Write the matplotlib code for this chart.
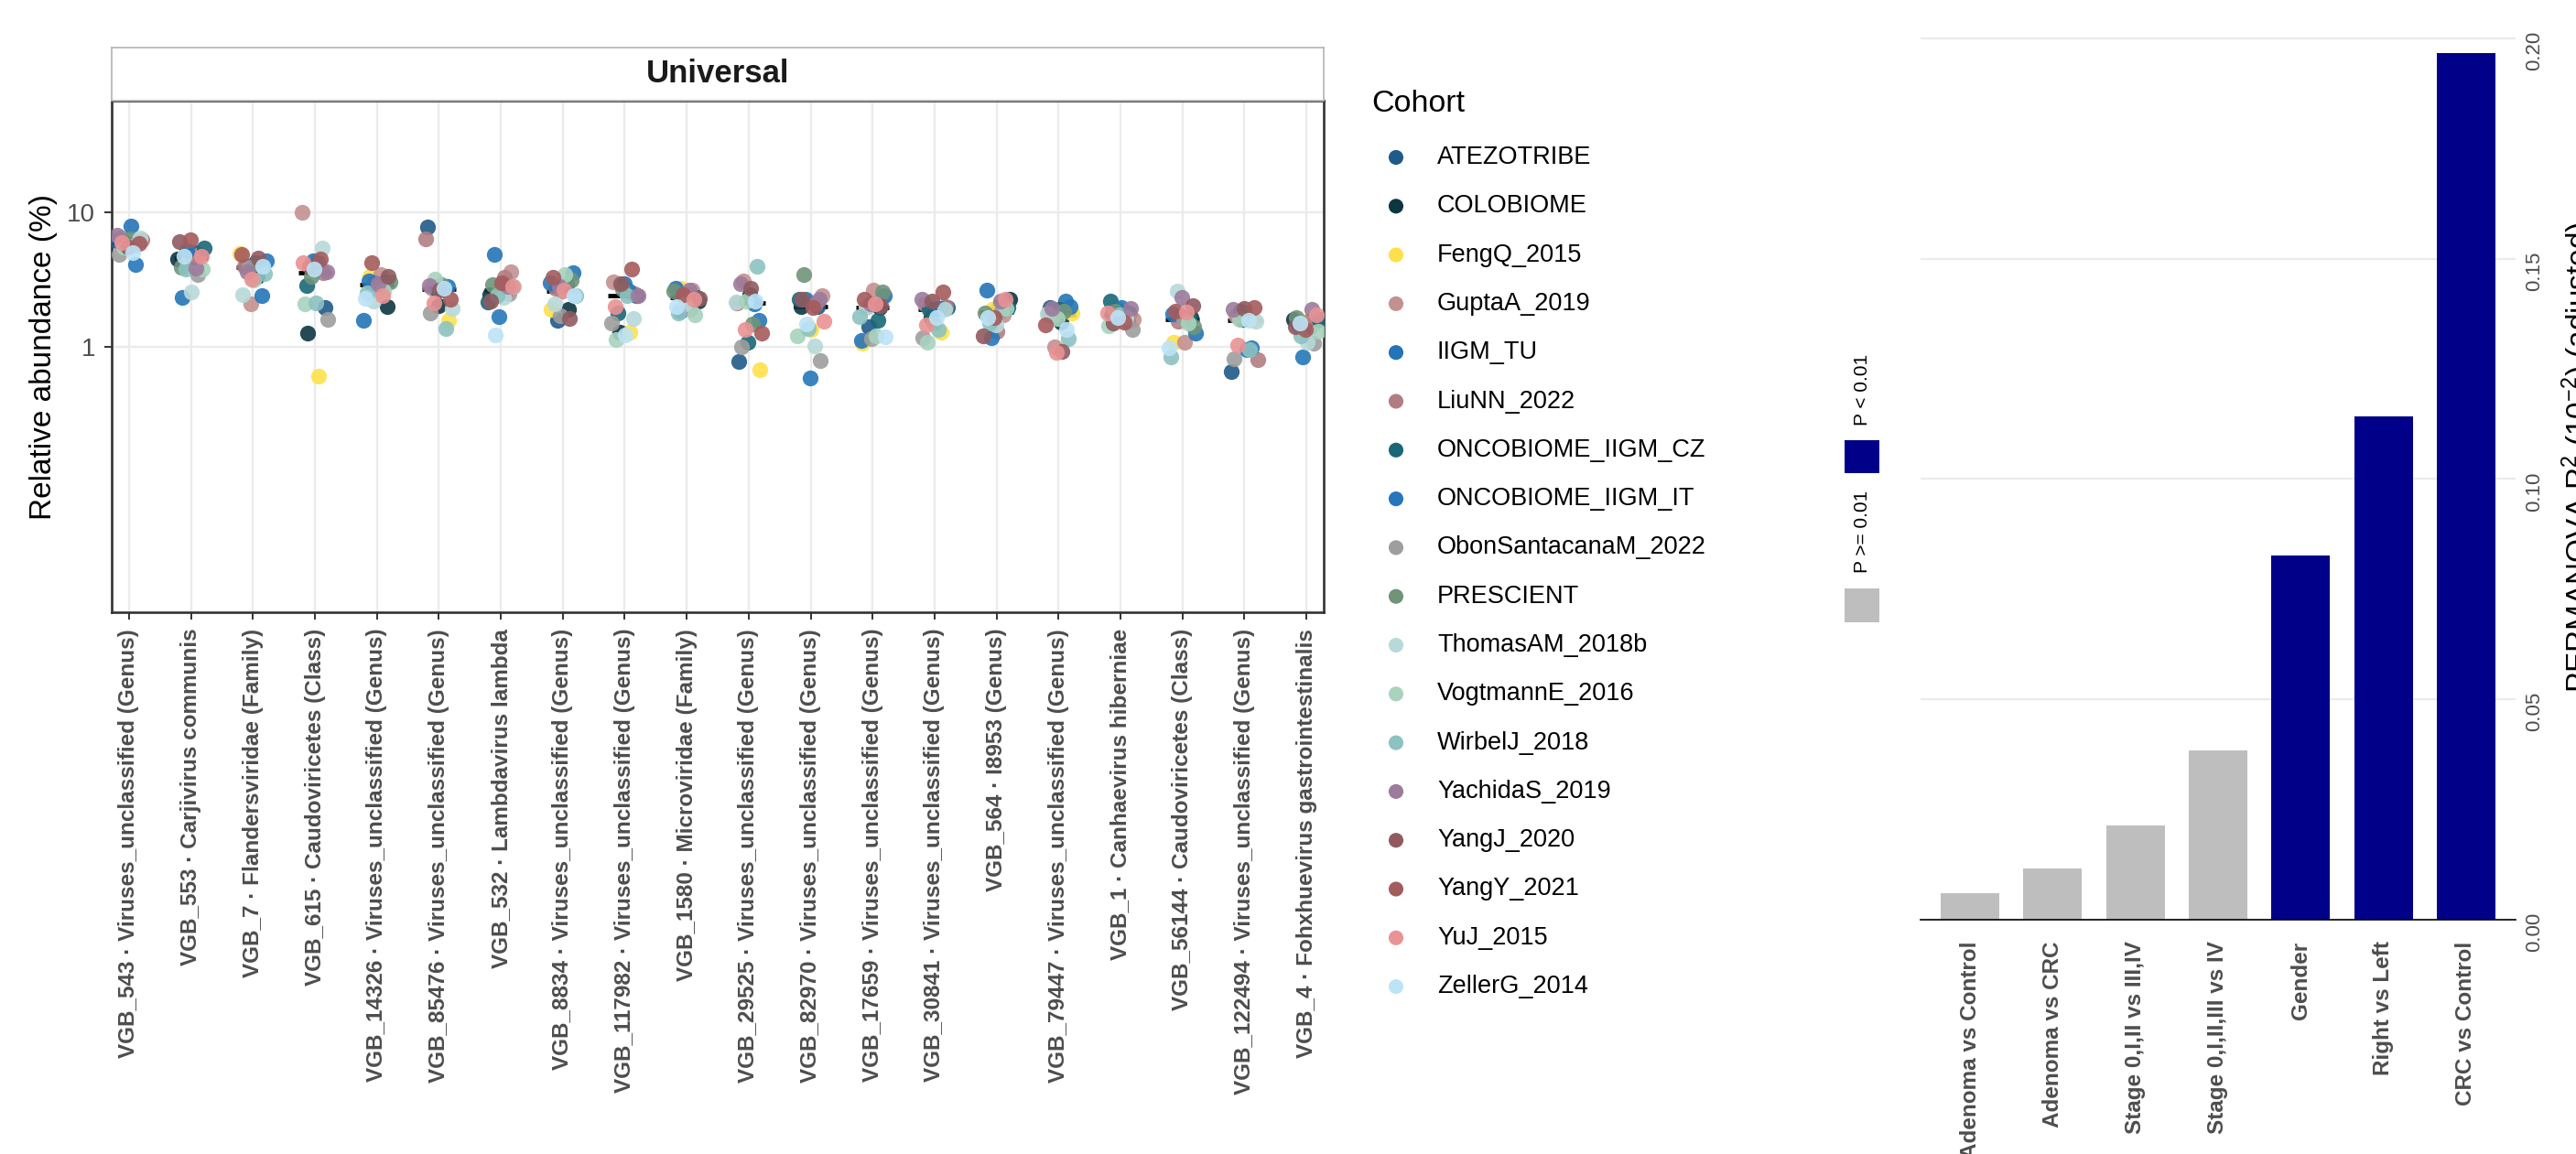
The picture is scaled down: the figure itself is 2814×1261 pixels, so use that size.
import numpy as np
import matplotlib.pyplot as plt
from matplotlib.patches import Rectangle

plt.rcParams['font.family'] = ['Liberation Sans', 'DejaVu Sans']
plt.rcParams['mathtext.fontset'] = 'custom'
plt.rcParams['mathtext.rm'] = 'Liberation Sans'
plt.rcParams['mathtext.it'] = 'Liberation Sans:italic'

W, H = 2814, 1261
GRAY_TXT = '#4D4D4D'

# Вирусные таксоны (ось X левой панели)
taxa = [
    'VGB_543 · Viruses_unclassified (Genus)',
    'VGB_553 · Carjivirus communis',
    'VGB_7 · Flandersviridae (Family)',
    'VGB_615 · Caudoviricetes (Class)',
    'VGB_14326 · Viruses_unclassified (Genus)',
    'VGB_85476 · Viruses_unclassified (Genus)',
    'VGB_532 · Lambdavirus lambda',
    'VGB_8834 · Viruses_unclassified (Genus)',
    'VGB_117982 · Viruses_unclassified (Genus)',
    'VGB_1580 · Microviridae (Family)',
    'VGB_29525 · Viruses_unclassified (Genus)',
    'VGB_82970 · Viruses_unclassified (Genus)',
    'VGB_17659 · Viruses_unclassified (Genus)',
    'VGB_30841 · Viruses_unclassified (Genus)',
    'VGB_564 · I8953 (Genus)',
    'VGB_79447 · Viruses_unclassified (Genus)',
    'VGB_1 · Canhaevirus hiberniae',
    'VGB_56144 · Caudoviricetes (Class)',
    'VGB_122494 · Viruses_unclassified (Genus)',
    'VGB_4 · Fohxhuevirus gastrointestinalis',
]

cohorts = ['ATEZOTRIBE', 'COLOBIOME', 'FengQ_2015', 'GuptaA_2019', 'IIGM_TU',
           'LiuNN_2022', 'ONCOBIOME_IIGM_CZ', 'ONCOBIOME_IIGM_IT',
           'ObonSantacanaM_2022', 'PRESCIENT', 'ThomasAM_2018b', 'VogtmannE_2016',
           'WirbelJ_2018', 'YachidaS_2019', 'YangJ_2020', 'YangY_2021', 'YuJ_2015',
           'ZellerG_2014']

cohort_colors = ['#1F5A89', '#0E3641', '#FEE04A', '#C49090', '#2474B6',
                 '#B27D82', '#1A6778', '#2577BA', '#9E9E9E', '#6F947A',
                 '#B8D9DA', '#A8D3BD', '#8CC2C1', '#9C7B9C', '#905A60',
                 '#A45B5C', '#E99394', '#BDE3F7']

# Относительная обилие (%) по когортам, в порядке таксонов
atezotribe = [6.2, 5.0, 4.0, 1.96, 2.9, 7.85, 2.6, 1.57, 2.4, 2.4, 0.78, 2.0, 1.42, 1.95, 2.0, 1.96, 1.8, 1.7, 0.66, 1.42]
colobiome = [5.9, 4.5, 3.36, 1.26, 1.99, 2.04, 2.45, 1.89, 1.28, 2.2, 2.45, 2.0, 1.97, 1.66, 2.27, 1.53, 1.76, 1.65, 1.6, 1.6]
fengq = [6.1, 4.6, 4.97, 0.61, 3.36, 1.57, 2.73, 1.89, 1.28, 2.73, 0.68, 1.36, 1.06, 1.29, 1.9, 1.8, 1.75, 1.09, 1.58, 1.55]
guptaa = [6.5, 4.9, 2.08, 10.0, 3.45, 2.75, 3.63, 2.6, 3.07, 2.65, 3.1, 2.39, 2.63, 2.1, 1.73, 1.01, 1.6, 1.09, 1.7, 1.5]
iigm_tu = [7.9, 2.33, 2.39, 4.36, 1.59, 2.7, 4.89, 3.54, 2.95, 2.73, 2.1, 2.25, 2.42, 1.92, 2.65, 2.21, 1.89, 1.26, 0.96, 1.45]
liunn = [6.3, 4.6, 3.95, 3.55, 3.0, 6.35, 3.27, 2.73, 2.5, 2.5, 2.12, 2.1, 2.0, 2.0, 1.31, 1.78, 1.55, 1.55, 0.8, 1.55]
onco_cz = [6.0, 5.4, 4.2, 2.87, 3.07, 2.7, 2.15, 2.9, 1.79, 2.35, 1.09, 2.27, 1.57, 1.9, 1.95, 1.9, 2.18, 1.62, 1.85, 1.6]
onco_it = [4.1, 5.2, 4.4, 4.3, 3.1, 2.8, 1.69, 3.0, 2.6, 1.84, 1.59, 0.59, 1.12, 1.93, 1.18, 2.0, 1.95, 1.75, 0.98, 0.85]
obon = [4.9, 3.45, 3.9, 1.6, 2.8, 1.79, 2.5, 1.7, 1.51, 1.89, 1.01, 0.79, 1.15, 1.18, 1.85, 1.72, 1.35, 1.6, 0.82, 1.06]
prescient = [6.4, 3.9, 4.1, 3.36, 3.07, 2.9, 2.9, 3.14, 2.68, 2.59, 1.48, 3.45, 2.56, 1.5, 1.8, 1.84, 1.84, 1.42, 1.75, 1.66]
thomasam = [6.5, 2.56, 2.43, 5.43, 2.18, 1.92, 2.33, 2.1, 1.63, 2.1, 2.15, 1.02, 1.95, 1.9, 1.46, 1.75, 1.65, 2.59, 1.55, 1.09]
vogtmanne = [5.5, 3.8, 3.14, 2.09, 2.6, 3.18, 2.83, 3.45, 1.14, 1.73, 2.2, 1.21, 1.21, 1.08, 1.94, 1.62, 1.43, 1.5, 1.6, 1.3]
wirbelj = [5.7, 3.77, 3.5, 2.13, 2.52, 1.38, 2.4, 2.4, 2.4, 1.79, 3.99, 1.38, 1.69, 1.35, 1.5, 1.16, 1.74, 0.85, 0.96, 1.21]
yachidas = [6.8, 3.86, 3.63, 3.6, 2.95, 2.87, 2.8, 2.8, 2.4, 2.63, 2.95, 2.27, 2.1, 2.25, 2.21, 1.94, 1.94, 2.33, 1.89, 1.89]
yangj = [5.5, 6.1, 4.6, 4.0, 3.36, 2.63, 2.18, 1.62, 2.95, 2.3, 2.73, 2.25, 2.02, 2.21, 1.21, 0.93, 1.5, 2.04, 1.94, 1.42]
yangy = [5.9, 6.3, 4.9, 4.52, 4.2, 2.27, 3.0, 3.27, 3.77, 2.45, 1.27, 1.98, 2.27, 2.55, 1.66, 1.46, 1.53, 1.86, 1.96, 1.35]
yuj = [6.0, 4.7, 3.18, 4.2, 2.39, 2.13, 2.8, 2.65, 1.99, 2.27, 1.36, 1.56, 2.1, 1.46, 2.27, 0.91, 1.79, 1.82, 1.04, 1.73]
zellerg = [5.0, 4.7, 4.0, 3.78, 2.3, 2.75, 1.23, 2.39, 1.23, 1.99, 2.19, 1.48, 1.2, 1.66, 1.66, 1.35, 1.66, 0.98, 1.57, 1.51]

# PERMANOVA (правая панель)
contrasts = ['Adenoma vs Control', 'Adenoma vs CRC', 'Stage 0,I,II vs III,IV',
             'Stage 0,I,II,III vs IV', 'Gender', 'Right vs Left', 'CRC vs Control']
r2_adj = [0.0060, 0.0117, 0.0214, 0.0384, 0.0827, 0.1143, 0.1967]
significant = [False, False, False, False, True, True, True]


def fx(px):
    return px / W


def fy(py):
    return 1 - py / H


abund = np.array([atezotribe, colobiome, fengq, guptaa, iigm_tu, liunn, onco_cz,
                  onco_it, obon, prescient, thomasam, vogtmanne, wirbelj, yachidas,
                  yangj, yangy, yuj, zellerg])
n_coh, n_tax = abund.shape

fig = plt.figure(figsize=(W / 100, H / 100), dpi=100)

# ---------- левая панель ----------
ax = fig.add_axes([fx(122), fy(669), fx(1446) - fx(122), fy(110) - fy(669)])
ax.set_yscale('log')
ax.set_ylim(0.0107, 67.6)
ax.set_xlim(-0.28, n_tax - 1 + 0.28)

# детерминированный разброс точек вокруг категории
jit = ((np.arange(n_coh)[:, None] * 7 + np.arange(n_tax)[None, :] * 11) % 18) / 17 - 0.5
xs = np.arange(n_tax)[None, :] + jit * 0.42

med = np.median(abund, axis=0)
ax.hlines(med, np.arange(n_tax) - 0.27, np.arange(n_tax) + 0.27, color='black',
          linewidth=3.4, zorder=2)

for i in range(n_coh):
    ax.scatter(xs[i], abund[i], s=155, color=cohort_colors[i], alpha=0.9,
               linewidths=0, zorder=3)

ax.set_xticks(np.arange(n_tax))
ax.set_xticklabels(taxa, rotation=90, fontsize=17.5, fontweight='bold', color=GRAY_TXT)
ax.set_yticks([1, 10])
ax.set_yticklabels(['1', '10'], fontsize=20, color=GRAY_TXT)
ax.yaxis.set_minor_locator(plt.NullLocator())
ax.tick_params(axis='both', length=5.8, width=1.4, color='#333333', pad=7)
ax.grid(True, color='#EBEBEB', linewidth=1.7, zorder=0)
ax.set_axisbelow(True)
for sp in ax.spines.values():
    sp.set_color('#333333')
    sp.set_linewidth(1.9)

fig.text(fx(48), fy(390), 'Relative abundance (%)', rotation=90, ha='center',
         va='center', fontsize=24)

# заголовок фасета
strip = fig.add_axes([fx(122), fy(110), fx(1446) - fx(122), fy(52) - fy(110)])
strip.set_xticks([])
strip.set_yticks([])
for sp in strip.spines.values():
    sp.set_color('#B3B3B3')
    sp.set_linewidth(1.2)
strip.text(0.5, 0.5, 'Universal', ha='center', va='center', fontsize=25,
           fontweight='bold', color='#1A1A1A', transform=strip.transAxes)

# ---------- правая панель ----------
ax2 = fig.add_axes([fx(2098), fy(1005), fx(2748) - fx(2098), fy(13) - fy(1005)])
bar_colors = ['#000088' if s else '#BEBEBE' for s in significant]
ax2.bar(np.arange(len(contrasts)), r2_adj, width=0.71, color=bar_colors, zorder=2)
ax2.set_xlim(-0.6, len(contrasts) - 1 + 0.6)
ax2.set_ylim(0, 0.206)
ax2.set_yticks([0.0, 0.05, 0.10, 0.15, 0.20])
ax2.set_yticklabels(['0.00', '0.05', '0.10', '0.15', '0.20'])
ax2.yaxis.tick_right()
ax2.tick_params(axis='y', length=0, pad=7, labelsize=16, labelcolor=GRAY_TXT,
                labelrotation=90)
ax2.set_xticks(np.arange(len(contrasts)))
ax2.set_xticklabels(contrasts, rotation=90, fontsize=17.5, fontweight='bold',
                    color=GRAY_TXT)
ax2.tick_params(axis='x', length=0, pad=17)
ax2.grid(True, axis='y', color='#EBEBEB', linewidth=1.6, zorder=0)
ax2.set_axisbelow(True)
for side in ['top', 'left', 'right']:
    ax2.spines[side].set_visible(False)
ax2.spines['bottom'].set_color('black')
ax2.spines['bottom'].set_linewidth(1.2)

fig.text(fx(2797), fy(499), r'PERMANOVA R$^2$ (10$^{-2}$) (adjusted)', rotation=90,
         ha='left', va='center', fontsize=24)

# ---------- легенды (пиксельные координаты) ----------
lg = fig.add_axes([0, 0, 1, 1])
lg.set_xlim(0, W)
lg.set_ylim(H, 0)
lg.axis('off')

lg.text(1498, 114, 'Cohort', ha='left', va='center', fontsize=24.5)
ys = 172 + 53.3 * np.arange(n_coh)
lg.scatter(np.full(n_coh, 1525), ys, s=135, c=cohort_colors, linewidths=0)
for y, name in zip(ys, cohorts):
    lg.text(1570, y, name, ha='left', va='center', fontsize=19.5)

lg.add_patch(Rectangle((2015, 481), 38, 36, color='#000088', linewidth=0))
lg.add_patch(Rectangle((2015, 643), 38, 37, color='#BEBEBE', linewidth=0))
lg.text(2035, 426, 'P < 0.01', rotation=90, ha='center', va='center', fontsize=15)
lg.text(2035, 581, 'P >= 0.01', rotation=90, ha='center', va='center', fontsize=15)

fig.savefig('out.png', dpi=100)
